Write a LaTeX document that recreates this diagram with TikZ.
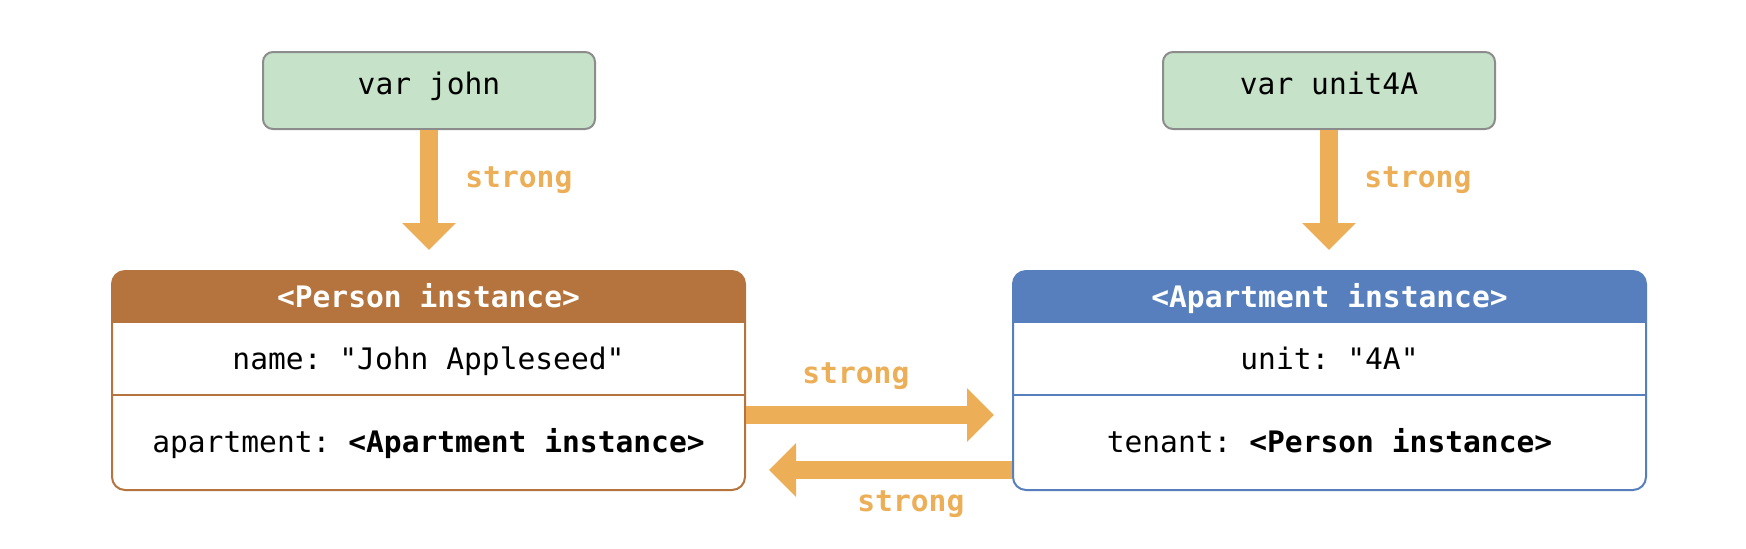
\documentclass[tikz,border=0pt]{standalone}
\usepackage{fontspec}
\setmonofont{DejaVu Sans Mono}
\usetikzlibrary{positioning,arrows.meta}

\definecolor{varfill}{HTML}{C6E2C8}
\definecolor{varline}{HTML}{8C8C8C}
\definecolor{personcol}{HTML}{B5743D}
\definecolor{aptcol}{HTML}{577FBD}
\definecolor{strongcol}{HTML}{ECAE56}

\newcommand{\codesize}{\fontsize{14.8pt}{17pt}\selectfont}

\tikzset{
  code/.style={font=\ttfamily\codesize, inner sep=0pt},
  boldcode/.style={font=\ttfamily\bfseries\codesize, inner sep=0pt},
  varbox/.style={code, draw=varline, fill=varfill, line width=1pt,
    rounded corners=5pt, minimum width=166pt, minimum height=38.5pt,
    text height=0.7em, text depth=0.26em},
  instbox/.style={draw=#1, line width=1pt, rounded corners=6.5pt,
    minimum width=316.5pt, minimum height=109.5pt,
    path picture={\fill[#1, sharp corners] (path picture bounding box.north west)
      rectangle ([yshift=-26pt]path picture bounding box.north east);}},
  headtext/.style={boldcode, text=white, anchor=base},
  rowtext/.style={code, anchor=base},
  strongtext/.style={boldcode, text=strongcol, anchor=base west},
  strongarrow/.style={draw=strongcol, line width=9pt,
    -{Triangle[width=26pt,length=13.5pt]}},
}

\begin{document}
\begin{tikzpicture}[x=0.5pt,y=-0.5pt]
	\path[fill=white] (0,0) rectangle (1746,548);
	% variables
	\node[varbox] (john) at (429,90.5) {var john};
	\node[varbox] (unit) at (1329,90.5) {var unit4A};
	% instances
	\node[instbox=personcol] (person) at (428.5,380.5) {};
	\node[instbox=aptcol] (apt) at (1329.5,380.5) {};
	\node[headtext] (personhead) at ([yshift=-18.5pt]person.north) {<Person instance>};
	\node[rowtext] (personname) at ([yshift=-49.75pt]person.north) {name: "John Appleseed"};
	\node[rowtext] (personapt) at ([yshift=-91.25pt]person.north) {apartment: \textbf{<Apartment instance>}};
	\node[headtext] (apthead) at ([yshift=-18.5pt]apt.north) {<Apartment instance>};
	\node[rowtext] (aptunit) at ([yshift=-49.75pt]apt.north) {unit: "4A"};
	\node[rowtext] (apttenant) at ([yshift=-91.25pt]apt.north) {tenant: \textbf{<Person instance>}};
	\draw[personcol, line width=0.75pt] ([yshift=-62.5pt]person.north west) -- ([yshift=-62.5pt]person.north east);
	\draw[aptcol, line width=0.75pt] ([yshift=-62.5pt]apt.north west) -- ([yshift=-62.5pt]apt.north east);
	%%%%%%%%%%
	\draw[strongarrow, shorten >=10pt] (john.south) -- (john.south |- person.north);
	\draw[strongarrow, shorten >=10pt] (unit.south) -- (unit.south |- apt.north);
	\draw[strongarrow, shorten >=9pt] ([yshift=-17.25pt]person.east) -- ([yshift=-17.25pt]apt.west);
	\draw[strongarrow, shorten >=11.5pt] ([yshift=-44.75pt]apt.west) -- ([yshift=-44.75pt]person.east);
	%%%%%%%%%%
	\node[strongtext] (johnlabel) at (465,187) {strong};
	\node[strongtext] (unitlabel) at (1364,187) {strong};
	\node[strongtext] (toaptlabel) at (802,383) {strong};
	\node[strongtext] (topersonlabel) at (857,511) {strong};
\end{tikzpicture}
\end{document}
